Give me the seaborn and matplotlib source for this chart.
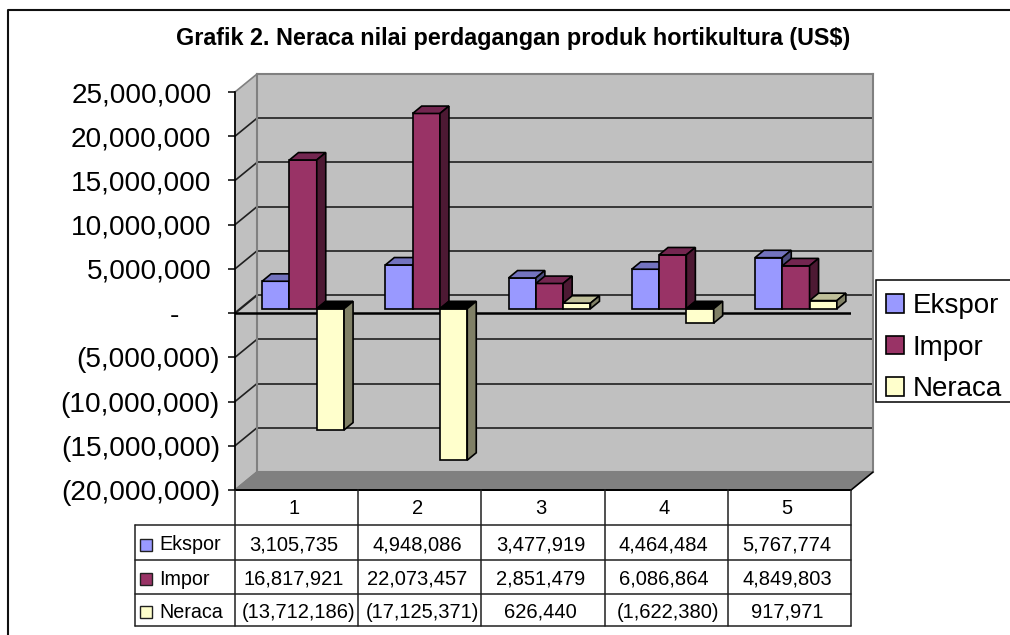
import numpy as np
import pandas as pd
import matplotlib
matplotlib.use("Agg")
import matplotlib.pyplot as plt
from matplotlib.patches import Polygon, Rectangle
import seaborn as sns

categories = ["1", "2", "3", "4", "5"]
ekspor = [3105735, 4948086, 3477919, 4464484, 5767774]
impor = [16817921, 22073457, 2851479, 6086864, 4849803]
neraca = [-13712186, -17125371, 626440, -1622380, 917971]
series_names = ["Ekspor", "Impor", "Neraca"]
y_ticks = [-20000000, -15000000, -10000000, -5000000, 0, 5000000, 10000000, 15000000, 20000000, 25000000]

W, H = 1010, 635
FRONT_L, FRONT_R, FRONT_T, FRONT_B = 235, 851, 92, 490
WALL_DX, WALL_DY = 22, 18
BAR_DX, BAR_DY = 6.5, 4.4
FACE_DX, FACE_DY = 9, 7.4
colors = {"Ekspor": "#9999FF", "Impor": "#993366", "Neraca": "#FFFFCC"}
tops = {"Ekspor": "#7373BF", "Impor": "#732650", "Neraca": "#BFBF99"}
sides = {"Ekspor": "#4D4D80", "Impor": "#4D1933", "Neraca": "#808066"}

sns.set_theme(style="white")
plt.rcParams["font.family"] = ["Liberation Sans", "DejaVu Sans"]


def rect(left, top, right, bottom):
    return [left / W, 1 - bottom / H, (right - left) / W, (bottom - top) / H]


def money(v):
    if v < 0:
        return f"({-v:,})"
    return f"{v:,}" if v else "-"


df = pd.DataFrame({
    "kategori": categories * 3,
    "seri": np.repeat(series_names, len(categories)),
    "nilai": ekspor + impor + neraca,
})

fig = plt.figure(figsize=(W / 100, H / 100), dpi=100, facecolor="white")

# pixel canvas for chart furniture: border, side wall, floor, table
canvas = fig.add_axes([0, 0, 1, 1], zorder=0)
canvas.set_xlim(0, W)
canvas.set_ylim(H, 0)
canvas.axis("off")
# only the top and left of the chart frame are inside the picture
canvas.plot([8, 8, W], [H, 10, 10], color="#101010", lw=1.5)

ylo, yhi = y_ticks[0], y_ticks[-1]
ypx = lambda v: FRONT_B - (v - ylo) / (yhi - ylo) * (FRONT_B - FRONT_T)

canvas.add_patch(Polygon(
    [(FRONT_L, FRONT_T), (FRONT_L + WALL_DX, FRONT_T - WALL_DY),
     (FRONT_L + WALL_DX, FRONT_B - WALL_DY), (FRONT_L, FRONT_B)],
    fc="#C0C0C0", ec="#808080", lw=1.2))
canvas.add_patch(Polygon(
    [(FRONT_L, FRONT_B), (FRONT_L + WALL_DX, FRONT_B - WALL_DY),
     (FRONT_R + WALL_DX, FRONT_B - WALL_DY), (FRONT_R, FRONT_B)],
    fc="#808080", ec="#808080", lw=1.2))
for t in y_ticks[1:-1]:
    canvas.plot([FRONT_L, FRONT_L + WALL_DX], [ypx(t), ypx(t) - WALL_DY],
                color="#202020", lw=1.2 if t else 1.6, zorder=3)

# back wall
wall = fig.add_axes(rect(FRONT_L + WALL_DX, FRONT_T - WALL_DY, FRONT_R + WALL_DX, FRONT_B - WALL_DY), zorder=1)
wall.set_facecolor("#C0C0C0")
wall.set_ylim(ylo, yhi)
wall.set_xticks([])
wall.set_yticks(y_ticks[1:-1])
wall.tick_params(left=False, labelleft=False)
wall.grid(axis="y", color="#202020", lw=1.2)
for s in wall.spines.values():
    s.set_color("#808080")
    s.set_linewidth(1.5)

# front plane: value axis and zero line
ax = fig.add_axes(rect(FRONT_L, FRONT_T, FRONT_R, FRONT_B), zorder=2)
ax.patch.set_alpha(0)
ax.set_ylim(ylo, yhi)
ax.set_xlim(-0.5, len(categories) - 0.5)
ax.set_xticks([])
ax.set_yticks(y_ticks)
ax.set_yticklabels([money(t) for t in y_ticks], fontsize=20.2, color="black")
ax.tick_params(axis="y", left=True, length=5, width=1.1, color="black")
# accounting format: positives leave room for the paren, the dash sits further left
for t, tick in zip(y_ticks, ax.yaxis.get_major_ticks()):
    tick.set_pad(5.8 if t < 0 else 12 if t > 0 else 35)
sns.despine(ax=ax, top=True, right=True, bottom=False)
ax.spines["bottom"].set_color("black")
ax.spines["bottom"].set_linewidth(1.2)
ax.spines["left"].set_color("black")
ax.spines["left"].set_linewidth(1.2)
ax.axhline(0, color="black", lw=1.8)

# bars sit slightly behind the front plane
bars = fig.add_axes(rect(FRONT_L + BAR_DX, FRONT_T - BAR_DY, FRONT_R + BAR_DX, FRONT_B - BAR_DY), zorder=3)
sns.barplot(data=df, x="kategori", y="nilai", hue="seri", order=categories, hue_order=series_names,
            palette=colors, width=0.665, gap=0, saturation=1, edgecolor="black", linewidth=1.2,
            legend=False, ax=bars)
bars.set_ylim(ylo, yhi)
bars.set_xlim(-0.5, len(categories) - 0.5)
bars.axis("off")

dx = FACE_DX * len(categories) / (FRONT_R - FRONT_L)
dy = FACE_DY * (yhi - ylo) / (FRONT_B - FRONT_T)
for s_i, (name, cont) in enumerate(zip(series_names, bars.containers)):
    for c_i, p in enumerate(cont.patches):
        x0, w = p.get_x(), p.get_width()
        y0, y1 = sorted((p.get_y(), p.get_y() + p.get_height()))
        z = 10 + c_i * 10 + s_i
        p.set_zorder(z)
        top_color = "black" if y0 < 0 else tops[name]
        bars.add_patch(Polygon([(x0, y1), (x0 + dx, y1 + dy), (x0 + w + dx, y1 + dy), (x0 + w, y1)],
                               fc=top_color, ec="black", lw=1.2, zorder=z, clip_on=False))
        bars.add_patch(Polygon([(x0 + w, y1), (x0 + w + dx, y1 + dy), (x0 + w + dx, y0 + dy), (x0 + w, y0)],
                               fc=sides[name], ec="black", lw=1.2, zorder=z, clip_on=False))

# data table, on top of the plot
top = fig.add_axes([0, 0, 1, 1], zorder=4)
top.patch.set_alpha(0)
top.set_xlim(0, W)
top.set_ylim(H, 0)
top.axis("off")

col_x = np.linspace(FRONT_L, FRONT_R, len(categories) + 1)
row_y = [490, 525, 560, 593.5, 625.5]
LINE = dict(color="#202020", lw=1.1)
top.plot([FRONT_R, FRONT_R + WALL_DX], [FRONT_B, FRONT_B - WALL_DY], color="black", lw=1.1)
top.plot([FRONT_L, FRONT_R], [row_y[0]] * 2, color="black", lw=1.3)
for y in row_y[1:]:
    top.plot([135, FRONT_R], [y, y], **LINE)
for x in col_x:
    top.plot([x, x], [row_y[0], row_y[-1]], **LINE)
top.plot([135, 135], [row_y[1], row_y[-1]], **LINE)

for c_i, cat in enumerate(categories):
    xc = (col_x[c_i] + col_x[c_i + 1]) / 2 - 2.5
    top.text(xc, (row_y[0] + row_y[1]) / 2 + 1, cat, ha="center", va="center", fontsize=14.5, color="black")
for r_i, (name, values) in enumerate(zip(series_names, [ekspor, impor, neraca])):
    yc = (row_y[r_i + 1] + row_y[r_i + 2]) / 2 + 2.5
    top.add_patch(Rectangle((140, yc - 6), 12, 12, fc=colors[name], ec="#202020", lw=1))
    top.text(159, yc, name, ha="left", va="center", fontsize=14.2, color="black")
    for c_i, v in enumerate(values):
        # same accounting format here, negatives sit further right
        xc = (col_x[c_i] + col_x[c_i + 1]) / 2 + (2.3 if v < 0 else -2.5)
        top.text(xc, yc, money(v), ha="center", va="center", fontsize=14.5, color="black")

# legend box runs off the right edge of the picture
top.add_patch(Rectangle((876, 280), 150, 122, fc="white", ec="black", lw=1.1, clip_on=True, zorder=4))
handles = [Rectangle((0, 0), 1, 1, fc=colors[n], ec="black", lw=1.2) for n in series_names]
leg = top.legend(handles, series_names, loc="upper left", bbox_to_anchor=(876 / W, 1 - 283 / H),
                 bbox_transform=fig.transFigure, fontsize=20, frameon=False,
                 borderaxespad=0, handlelength=0.65, handleheight=0.65, handletextpad=0.32,
                 labelspacing=0.56, borderpad=0.36, labelcolor="black")
leg.set_zorder(5)

top.text(513, 38, "Grafik 2. Neraca nilai perdagangan produk hortikultura (US$)", ha="center", va="center",
         fontsize=16.85, fontweight="bold", color="black")

fig.savefig("out.png", dpi=100)
